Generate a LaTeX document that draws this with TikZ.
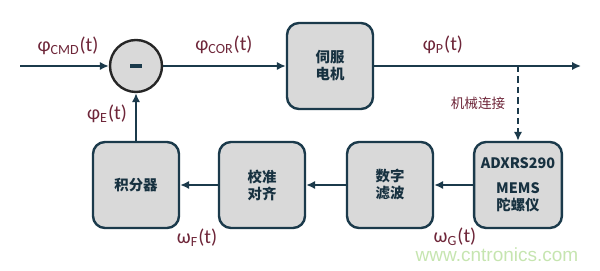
\documentclass[tikz,border=0pt]{standalone}
\usepackage{fontspec}
\setmainfont{Carlito}
\newfontfamily\cjk{Noto Sans CJK SC}
\newfontfamily\wmfont{Liberation Sans}
\usetikzlibrary{positioning,arrows.meta}
\definecolor{navy}{HTML}{1B3A4B}
\definecolor{wine}{HTML}{6E2639}
\definecolor{boxgray}{HTML}{D9D9D9}
\definecolor{wmgreen}{HTML}{C6E5B0}

\begin{document}
\begin{tikzpicture}[x=0.5pt, y=-0.5pt,
                    ln/.style={navy, line width=1.3pt, -{Latex[length=4.5pt, width=4.2pt]}},
                    blk/.style={draw=navy, line width=1.2pt, fill=boxgray, rounded corners=6pt,
                                minimum width=43pt, minimum height=43pt, align=center,
                                font=\cjk\bfseries\fontsize{7.2}{8.5}\selectfont, text=navy!85!black},
                    sig/.style={wine, font=\fontsize{10}{12}\selectfont, inner sep=1pt},
                    lnk/.style={wine, font=\cjk\fontsize{6.8}{8}\selectfont, inner sep=1pt}]
  \useasboundingbox (0,0) rectangle (600,271);
  \node[circle, draw=black!85, line width=1.2pt, fill=boxgray, minimum size=26pt,
        inner sep=0pt, text=navy] (sum) at (136,66) {\rule{6pt}{1.7pt}};
  \node[blk] (servo) at (330,66) {伺服\\电机};
  \node[blk] (gyro) at (518,185) {ADXRS290\\[4pt]MEMS\\陀螺仪};
  \node[blk] (filt) at (390,185) {数字\\滤波};
  \node[blk] (cal) at (262,185) {校准\\对齐};
  \node[blk] (integ) at (136,185) {积分器};
  \coordinate (in) at (20,66);
  \coordinate (out) at (581,66);
  \coordinate (tap) at (518,66);
  \draw[ln] (in) -- (sum);
  \draw[ln] (sum) -- (servo);
  \draw[ln] (servo) -- (out);
  \draw[ln, dash pattern=on 3.2pt off 2pt] (tap) -- (gyro);
  \draw[ln] (gyro) -- (filt);
  \draw[ln] (filt) -- (cal);
  \draw[ln] (cal) -- (integ);
  \draw[ln] (integ) -- (sum);
  % signal labels
  \node[sig] (cmd) at (68,46) {φ\textsubscript{CMD}(t)};
  \node[sig] (cor) at (224,45) {φ\textsubscript{COR}(t)};
  \node[sig] (pos) at (443,45) {φ\textsubscript{P}(t)};
  \node[sig] (err) at (107,114) {φ\textsubscript{E}(t)};
  \node[sig] (wf) at (197,238) {ω\textsubscript{F}(t)};
  \node[sig] (wg) at (455,237) {ω\textsubscript{G}(t)};
  \node[lnk] (mech) at (478,103) {机械连接};
  \node[wmgreen, font=\wmfont\fontsize{9.5}{10}\selectfont, inner sep=0pt] (wm) at (497,255) {www.cntronics.com};
\end{tikzpicture}
\end{document}
